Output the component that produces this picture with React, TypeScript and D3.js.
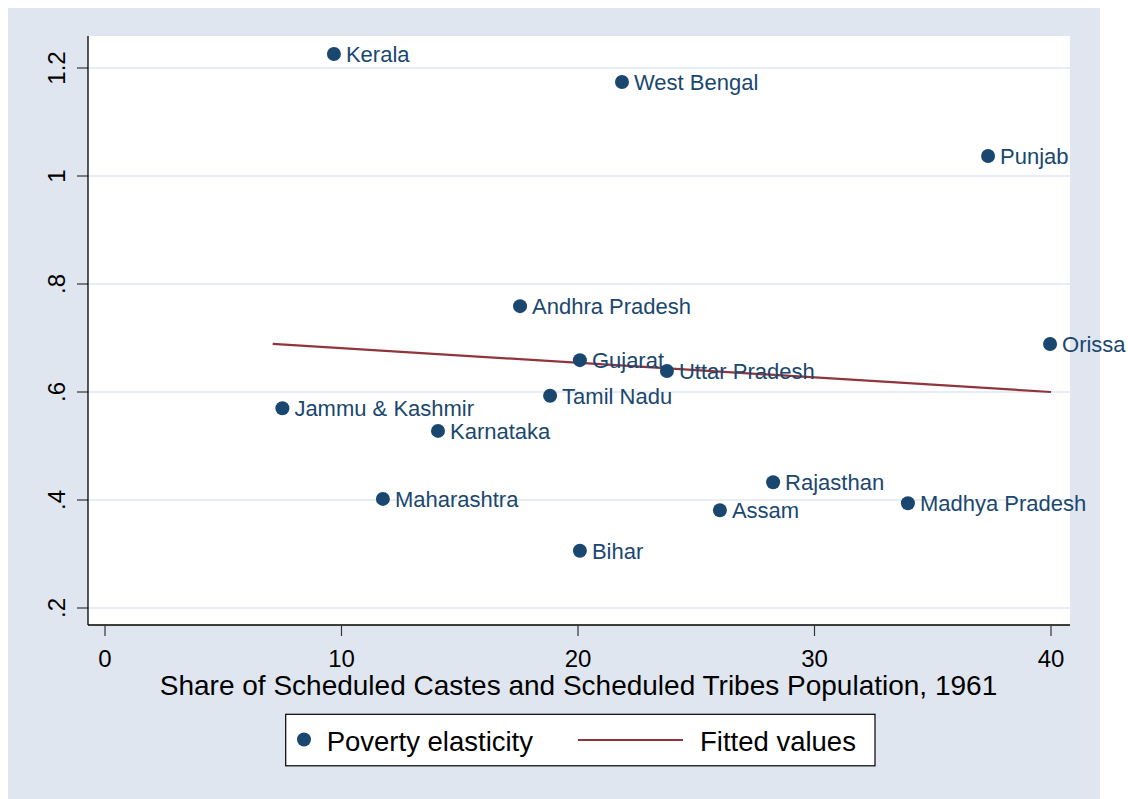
import React from "react";
import * as d3 from "d3";

const states = ["Kerala", "West Bengal", "Punjab", "Andhra Pradesh", "Orissa", "Gujarat", "Uttar Pradesh", "Tamil Nadu", "Jammu & Kashmir", "Karnataka", "Maharashtra", "Rajasthan", "Madhya Pradesh", "Assam", "Bihar"];
const shareSCST = [9.68, 21.86, 37.34, 17.55, 39.96, 20.08, 23.76, 18.82, 7.5, 14.08, 11.75, 28.25, 33.95, 26.0, 20.08];
const elasticity = [1.226, 1.174, 1.037, 0.759, 0.689, 0.659, 0.639, 0.593, 0.570, 0.528, 0.402, 0.433, 0.394, 0.381, 0.306];
const fittedX = [7.09, 40.0];
const fittedY = [0.689, 0.600];
const xTicks = [0, 10, 20, 30, 40];
const yTicks = [0.2, 0.4, 0.6, 0.8, 1.0, 1.2];
const yTickLabels = [".2", ".4", ".6", ".8", "1", "1.2"];

const W = 1092;
const H = 791;
const BG = "#E0E6F0";
const NAVY = "#1A476F";
const MAROON = "#90353B";
const FONT = "'Liberation Sans', Arial, sans-serif";

export default function App() {
  const plotL = 80, plotR = 1062, plotT = 28, plotB = 617;
  const x = d3.scaleLinear().domain([0, 40]).range([97, 1043]);
  const y = d3.scaleLinear().domain([0.2, 1.2]).range([600, 60]);
  const line = d3.line<number>().x((_, i) => x(fittedX[i])).y((d) => y(d));

  return (
    <svg
      width={W}
      height={H}
      style={{ display: "block", overflow: "visible", position: "absolute", left: 8, top: 8 }}
      fontFamily={FONT}
    >
      <rect x={0} y={0} width={W} height={H} fill={BG} />
      <rect x={plotL} y={plotT} width={plotR - plotL} height={plotB - plotT} fill="#fff" />
      {yTicks.map((t, i) => (
        <g key={"y" + i}>
          <line x1={plotL} x2={plotR} y1={y(t)} y2={y(t)} stroke={BG} strokeWidth={1.5} />
          <line x1={plotL - 11} x2={plotL} y1={y(t)} y2={y(t)} stroke="#333" strokeWidth={1.2} />
          <text transform={`translate(57,${y(t)}) rotate(-90)`} textAnchor="middle" fontSize={24} fill="#000">
            {yTickLabels[i]}
          </text>
        </g>
      ))}
      <line x1={plotL} x2={plotL} y1={plotT} y2={plotB} stroke="#000" strokeWidth={1.3} />
      <line x1={plotL} x2={plotR} y1={plotB} y2={plotB} stroke="#000" strokeWidth={1.3} />
      {xTicks.map((t, i) => (
        <g key={"x" + i}>
          <line x1={x(t)} x2={x(t)} y1={plotB} y2={plotB + 11} stroke="#333" strokeWidth={1.2} />
          <text x={x(t)} y={659} textAnchor="middle" fontSize={24} fill="#000">{t}</text>
        </g>
      ))}
      <text x={570.5} y={687} textAnchor="middle" fontSize={28} fill="#000">
        Share of Scheduled Castes and Scheduled Tribes Population, 1961
      </text>
      <path d={line(fittedY) || ""} fill="none" stroke={MAROON} strokeWidth={2.2} />
      {states.map((s, i) => (
        <g key={s}>
          <circle cx={x(shareSCST[i])} cy={y(elasticity[i])} r={7} fill={NAVY} />
          <text x={x(shareSCST[i]) + 12} y={y(elasticity[i]) + 7.8} fontSize={22} fill={NAVY}>{s}</text>
        </g>
      ))}
      <g>
        <rect x={277.7} y={706.3} width={589.3} height={51.5} fill="#fff" stroke="#000" strokeWidth={1.2} />
        <circle cx={296} cy={731.5} r={7} fill={NAVY} />
        <text x={318.7} y={742.7} fontSize={27.5} fill="#000">Poverty elasticity</text>
        <line x1={570} x2={675} y1={732} y2={732} stroke={MAROON} strokeWidth={2.2} />
        <text x={692} y={742.7} fontSize={27.5} fill="#000">Fitted values</text>
      </g>
    </svg>
  );
}
